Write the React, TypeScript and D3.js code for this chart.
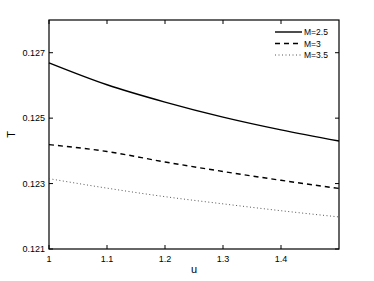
import React, { useEffect, useRef } from "react";
import * as d3 from "d3";

// values
const uValues = [1, 1.1, 1.2, 1.3, 1.4, 1.5];
const seriesM25 = [0.12669, 0.12602, 0.12549, 0.12503, 0.12464, 0.1243];
const seriesM3 = [0.12419, 0.12398, 0.12366, 0.12337, 0.1231, 0.12285];
const seriesM35 = [0.12315, 0.12286, 0.1226, 0.12238, 0.12217, 0.12198];
const seriesNames = ["M=2.5", "M=3", "M=3.5"];
const xTicks = [1, 1.1, 1.2, 1.3, 1.4];
const yTicks = [0.121, 0.123, 0.125, 0.127];

export default function App() {
  const ref = useRef<SVGSVGElement | null>(null);

  useEffect(() => {
    const width = 374;
    const height = 281;
    const margin = { top: 20, right: 35, bottom: 32, left: 49 };
    const svg = d3.select(ref.current);
    svg.selectAll("*").remove();

    const x = d3.scaleLinear().domain([1, 1.5]).range([margin.left, width - margin.right]);
    const y = d3.scaleLinear().domain([0.121, 0.128]).range([height - margin.bottom, margin.top]);

    const font = "'Liberation Sans', Arial, sans-serif";
    const tickLen = 4;

    // ticks on all four sides, pointing in
    const g = svg.append("g");
    xTicks.forEach((t) => {
      g.append("line").attr("x1", x(t)).attr("x2", x(t))
        .attr("y1", y(0.121)).attr("y2", y(0.121) - tickLen).attr("stroke", "#000");
      g.append("line").attr("x1", x(t)).attr("x2", x(t))
        .attr("y1", y(0.128)).attr("y2", y(0.128) + tickLen).attr("stroke", "#000");
      g.append("text").attr("x", x(t)).attr("y", y(0.121) + 13)
        .attr("text-anchor", "middle").style("font-size", "9px").style("font-family", font)
        .text(d3.format("")(t));
    });
    yTicks.forEach((t) => {
      g.append("line").attr("x1", x(1)).attr("x2", x(1) + tickLen)
        .attr("y1", y(t)).attr("y2", y(t)).attr("stroke", "#000");
      g.append("line").attr("x1", x(1.5)).attr("x2", x(1.5) - tickLen)
        .attr("y1", y(t)).attr("y2", y(t)).attr("stroke", "#000");
      g.append("text").attr("x", x(1) - 4).attr("y", y(t) + 3)
        .attr("text-anchor", "end").style("font-size", "9px").style("font-family", font)
        .text(d3.format(".3f")(t));
    });

    svg.append("rect")
      .attr("x", x(1)).attr("y", y(0.128))
      .attr("width", x(1.5) - x(1)).attr("height", y(0.121) - y(0.128))
      .attr("fill", "none").attr("stroke", "#000").attr("stroke-width", 1.2);

    const line = d3.line<number>()
      .x((d, i) => x(uValues[i]))
      .y((d) => y(d))
      .curve(d3.curveMonotoneX);

    const styles = [
      { data: seriesM25, dash: null, color: "#000", w: 1.4 },
      { data: seriesM3, dash: "5,4", color: "#000", w: 1.4 },
      { data: seriesM35, dash: "1,2.5", color: "#555", w: 1 },
    ];

    styles.forEach((s, i) => {
      svg.append("path").datum(s.data).attr("d", line)
        .attr("fill", "none").attr("stroke", s.color).attr("stroke-width", s.w)
        .attr("stroke-dasharray", s.dash);

      const ly = 32 + i * 11.5;
      svg.append("line").attr("x1", 275).attr("x2", 302).attr("y1", ly).attr("y2", ly)
        .attr("stroke", s.color).attr("stroke-width", s.w).attr("stroke-dasharray", s.dash);
      svg.append("text").attr("x", 304).attr("y", ly + 3)
        .style("font-size", "8.5px").style("font-family", font)
        .text(seriesNames[i]);
    });

    svg.append("text").attr("x", (x(1) + x(1.5)) / 2).attr("y", 273)
      .attr("text-anchor", "middle").style("font-size", "11px").style("font-family", font)
      .text("u");
    svg.append("text")
      .attr("transform", `translate(15,${(y(0.121) + y(0.128)) / 2}) rotate(-90)`)
      .attr("text-anchor", "middle").style("font-size", "11px").style("font-family", font)
      .text("T");
  }, []);

  return (
    <svg ref={ref} width={374} height={281}
      style={{ position: "absolute", left: 0, top: 0, background: "#fff" }} />
  );
}
